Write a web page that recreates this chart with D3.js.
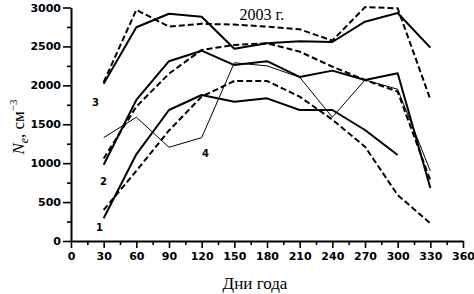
<!DOCTYPE html>
<html lang="ru">
<head>
<meta charset="UTF-8" />
<title>Ne 2003</title>
<script src="https://d3js.org/d3.v7.min.js"></script>
<style>
  body { margin: 0; background: #fff; }
  svg { display: block; }
  .tick text { font-family: "DejaVu Sans", sans-serif; font-weight: bold; font-size: 11px; fill: #000; }
  .domain { stroke: #000; stroke-width: 2px; }
  .tick line { stroke: #000; stroke-width: 1.6px; }
  .serif { font-family: "Liberation Serif", "Times New Roman", serif; fill: #000; }
  .num { font-family: "DejaVu Sans", sans-serif; font-weight: bold; font-size: 10px; fill: #000; }
</style>
</head>
<body>
<svg width="474" height="294"></svg>
<script>
// days of the year
const days = [30, 60, 90, 120, 150, 180, 210, 240, 270, 300, 330];

// curve 1
const solid1  = [292, 1114, 1683, 1876, 1790, 1833, 1683, 1683, 1426, 1105];
const dashed1 = [400, 900, 1420, 1855, 2056, 2056, 1855, 1560, 1212, 591, 227];
// curve 2
const solid2  = [980, 1812, 2310, 2445, 2260, 2310, 2108, 2189, 2069, 2155, 680];
const dashed2 = [1060, 1726, 2150, 2455, 2519, 2540, 2433, 2240, 2069, 1919, 780];
// curve 3
const solid3  = [2020, 2746, 2920, 2880, 2470, 2540, 2565, 2557, 2818, 2930, 2485];
const dashed3 = [2040, 2970, 2754, 2790, 2780, 2755, 2720, 2574, 3005, 2990, 1820];
// curve 4 (thin)
const thin4   = [1328, 1590, 1204, 1328, 2290, 2250, 2104, 1590, 2069, 1950, 900];

const xTicks = [0, 30, 60, 90, 120, 150, 180, 210, 240, 270, 300, 330, 360];
const yTicks = [0, 500, 1000, 1500, 2000, 2500, 3000];

const svg = d3.select("svg");
const x = d3.scaleLinear().domain([0, 360]).range([71, 463]);
const y = d3.scaleLinear().domain([0, 3000]).range([241, 7.5]);

// minor ticks first
svg.append("g")
  .attr("transform", "translate(0,241)")
  .call(d3.axisBottom(x).tickValues(d3.range(15, 360, 30)).tickSize(4).tickFormat(""))
  .call(g => g.select(".domain").remove());
svg.append("g")
  .attr("transform", "translate(71,0)")
  .call(d3.axisLeft(y).tickValues(d3.range(250, 3000, 500)).tickSize(4).tickFormat(""))
  .call(g => g.select(".domain").remove());

svg.append("g")
  .attr("transform", "translate(0,241)")
  .call(d3.axisBottom(x).tickValues(xTicks).tickFormat(d3.format("d"))
    .tickSize(7).tickSizeOuter(0).tickPadding(4));
svg.append("g")
  .attr("transform", "translate(71,0)")
  .call(d3.axisLeft(y).tickValues(yTicks).tickFormat(d3.format("d"))
    .tickSize(8).tickSizeOuter(0).tickPadding(2));

const line = d3.line().x((d, i) => x(days[i])).y(d => y(d));

function draw(vals, dash, w) {
  svg.append("path")
    .datum(vals)
    .attr("d", line)
    .attr("fill", "none")
    .attr("stroke", "#000")
    .attr("stroke-width", w)
    .attr("stroke-linejoin", "round")
    .attr("stroke-dasharray", dash);
}

draw(thin4, null, 1);
draw(solid1, null, 2);
draw(dashed1, "6,3", 2);
draw(solid2, null, 2);
draw(dashed2, "6,3", 2);
draw(solid3, null, 2);
draw(dashed3, "6,3", 2);

// curve numbers
svg.append("text").attr("class", "num").attr("x", 96).attr("y", 231).text("1");
svg.append("text").attr("class", "num").attr("x", 100).attr("y", 185).text("2");
svg.append("text").attr("class", "num").attr("x", 92).attr("y", 106).text("3");
svg.append("text").attr("class", "num").attr("x", 202).attr("y", 157).text("4");

// title
svg.append("text").attr("class", "serif")
  .attr("x", 262).attr("y", 20).attr("text-anchor", "middle")
  .style("font-size", "16px").text("2003 г.");

// x label
svg.append("text").attr("class", "serif")
  .attr("x", 255).attr("y", 289).attr("text-anchor", "middle")
  .style("font-size", "17px").text("Дни года");

// y label
const yl = svg.append("text").attr("class", "serif")
  .attr("transform", "translate(24,127) rotate(-90)")
  .attr("text-anchor", "middle")
  .style("font-size", "17px");
yl.append("tspan").style("font-style", "italic").text("N");
yl.append("tspan").style("font-style", "italic").style("font-size", "12px").attr("dy", 4).text("e");
yl.append("tspan").attr("dy", -4).text(", см");
yl.append("tspan").style("font-size", "11px").attr("dy", -7).text("−3");
</script>
</body>
</html>
